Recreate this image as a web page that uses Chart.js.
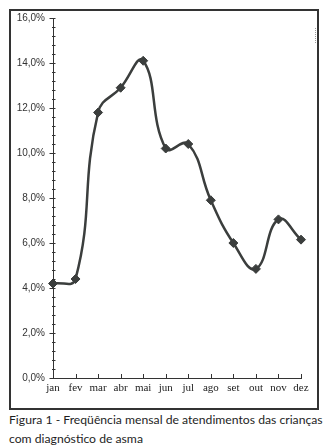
<!DOCTYPE html>
<html>
<head>
<meta charset="utf-8">
<script src="https://cdn.jsdelivr.net/npm/chart.js@4.4.1/dist/chart.umd.min.js"></script>
<style>
  html, body { margin: 0; padding: 0; background: #fff; }
  body { width: 332px; height: 448px; position: relative; overflow: hidden; }
  #frame { position: absolute; left: 9px; top: 9px; width: 306px; height: 397px; border: 2px solid #333; }
  #wrap { position: absolute; left: 0; top: 0; width: 332px; height: 410px; }
  #dots { position: absolute; left: 315px; top: 28px; height: 15px; border-left: 1px dotted #999; }
  #caption { position: absolute; left: 9px; top: 411px; width: 323px; font-family: Lato, "Open Sans", sans-serif;
             font-size: 12.2px; line-height: 18.5px; color: #1e1e1e; white-space: nowrap; }
</style>
</head>
<body>
<div id="frame"></div>
<div id="dots"></div>
<div id="wrap"><canvas id="c"></canvas></div>
<div id="caption">Figura 1 - Freqüência mensal de atendimentos das crianças<br>com diagnóstico de asma</div>
<script>
// Months shown on the horizontal axis
const months = ['jan', 'fev', 'mar', 'abr', 'mai', 'jun', 'jul', 'ago', 'set', 'out', 'nov', 'dez'];
// Monthly share of asthma visits (%)
const frequencia = [4.2, 4.4, 11.8, 12.9, 14.1, 10.2, 10.4, 7.9, 6.0, 4.85, 7.05, 6.15];
// Vertical axis range and steps (%)
const yMin = 0;
const yMax = 16;
const yStep = 2;
const yMinorStep = 0.4;

const ink = '#333';

// Tick marks: majors cross the y axis, minors point inward,
// category ticks point upward from the x axis.
const tickMarks = {
  id: 'tickMarks',
  afterDraw(chart) {
    const { ctx, scales: { x, y } } = chart;
    const ax = x.getPixelForValue(0);
    ctx.save();
    ctx.strokeStyle = ink;
    ctx.lineWidth = 1;
    ctx.beginPath();
    for (let v = yMin; v <= yMax + 1e-9; v += yMinorStep) {
      const py = Math.round(y.getPixelForValue(v)) + 0.5;
      const major = Math.abs(v / yStep - Math.round(v / yStep)) < 1e-6;
      ctx.moveTo(ax - (major ? 3.5 : 1), py);
      ctx.lineTo(ax + 2.5, py);
    }
    const by = y.getPixelForValue(yMin);
    months.forEach((m, i) => {
      const px = Math.round(x.getPixelForValue(i)) + 0.5;
      ctx.moveTo(px, by);
      ctx.lineTo(px, by - 4);
    });
    ctx.stroke();
    ctx.restore();
  }
};

new Chart(document.getElementById('c'), {
  type: 'line',
  data: {
    labels: months,
    datasets: [{
      data: frequencia,
      borderColor: '#3b3e3d',
      borderWidth: 2.5,
      backgroundColor: '#3b3e3d',
      tension: 0.45,
      pointStyle: 'rectRot',
      pointRadius: 4.5,
      pointHoverRadius: 4.5,
      pointBorderWidth: 1,
      pointBackgroundColor: '#3b3e3d',
      pointBorderColor: '#3b3e3d',
      clip: false
    }]
  },
  options: {
    responsive: true,
    maintainAspectRatio: false,
    animation: false,
    events: [],
    layout: { padding: { left: 0, right: 31, top: 18, bottom: 0 } },
    plugins: { legend: { display: false }, tooltip: { enabled: false } },
    scales: {
      x: {
        offset: false,
        grid: { display: false, drawTicks: false, tickLength: 0 },
        border: { display: true, color: ink, width: 1 },
        ticks: {
          padding: 4,
          color: '#222',
          autoSkip: false,
          maxRotation: 0,
          font: { family: '"Liberation Serif", serif', size: 11 }
        },
        afterFit(s) { s.height = 32; }
      },
      y: {
        min: yMin,
        max: yMax,
        grid: { display: false, drawTicks: false, tickLength: 0 },
        border: { display: true, color: ink, width: 1 },
        ticks: {
          stepSize: yStep,
          padding: 8,
          color: ink,
          font: { family: '"Liberation Sans", Arial, sans-serif', size: 10 },
          callback: v => v.toFixed(1).replace('.', ',') + '%'
        },
        afterFit(s) { s.width = 53; }
      }
    }
  },
  plugins: [tickMarks]
});
</script>
</body>
</html>
